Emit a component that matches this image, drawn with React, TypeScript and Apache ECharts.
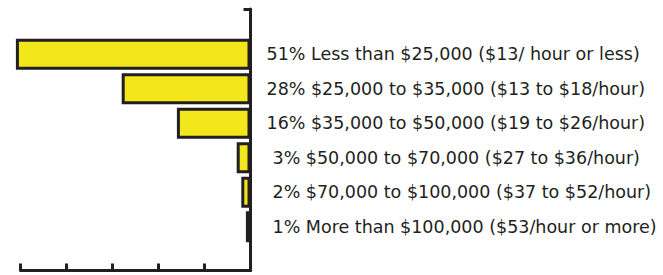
import React, { useEffect, useRef } from "react";
import * as echarts from "echarts";

const categories: string[] = [
  "Less than $25,000 ($13/ hour or less)",
  "$25,000 to $35,000 ($13 to $18/hour)",
  "$35,000 to $50,000 ($19 to $26/hour)",
  "$50,000 to $70,000 ($27 to $36/hour)",
  "$70,000 to $100,000 ($37 to $52/hour)",
  "More than $100,000 ($53/hour or more)",
];
const percents: number[] = [51, 28, 16, 3, 2, 1];
const axisTicks: number[] = [0, 10, 20, 30, 40, 50];

const INK = "#231f20";
const YELLOW = "#f2e71b";
const FONT = "DejaVu Sans";
const FS = 17.5;

export default function App() {
  const ref = useRef<HTMLDivElement>(null);
  useEffect(() => {
    if (!ref.current) return;
    const chart = echarts.init(ref.current, undefined, { renderer: "svg" });
    const pctByCat: Record<string, number> = {};
    categories.forEach((c, i) => (pctByCat[c] = percents[i]));
    chart.setOption({
      animation: false,
      grid: [
        { left: 20.5, right: 412.5, top: 9, bottom: 4.5 },
        { left: 20.5, right: 412.5, top: 37, bottom: 31 },
      ],
      xAxis: [
        {
          gridIndex: 0,
          type: "value",
          inverse: true,
          min: axisTicks[0],
          max: axisTicks[axisTicks.length - 1],
          interval: 10,
          axisLine: { show: true, lineStyle: { color: INK, width: 3 } },
          axisTick: { show: true, inside: true, length: 7, lineStyle: { color: INK, width: 3 } },
          axisLabel: { show: false },
          splitLine: { show: false },
        },
        {
          gridIndex: 1,
          type: "value",
          inverse: true,
          min: axisTicks[0],
          max: axisTicks[axisTicks.length - 1],
          show: false,
          splitLine: { show: false },
        },
      ],
      yAxis: [
        {
          gridIndex: 0,
          type: "value",
          position: "right",
          min: 0,
          max: 1,
          interval: 1,
          axisLine: { show: true, lineStyle: { color: INK, width: 3 } },
          axisTick: { show: true, inside: true, length: 7, lineStyle: { color: INK, width: 3 } },
          axisLabel: { show: false },
          splitLine: { show: false },
        },
        {
          gridIndex: 1,
          type: "category",
          position: "right",
          inverse: true,
          data: categories,
          axisLine: { show: false },
          axisTick: { show: false },
          axisLabel: {
            show: true,
            margin: 16,
            align: "left",
            formatter: (v: string) => {
              const p = pctByCat[v];
              return p >= 10 ? `{a|${p}% ${v}}` : `{b|${p}% ${v}}`;
            },
            rich: {
              a: { color: INK, fontFamily: FONT, fontSize: FS },
              b: { color: INK, fontFamily: FONT, fontSize: FS, padding: [0, 0, 0, 6] },
            },
          },
          splitLine: { show: false },
        },
      ],
      series: [
        {
          type: "bar",
          xAxisIndex: 1,
          yAxisIndex: 1,
          data: percents,
          barWidth: 31,
          clip: false,
          itemStyle: { color: YELLOW, borderColor: INK, borderWidth: 3 },
          z: 1,
        },
      ],
    });
    return () => chart.dispose();
  }, []);
  return (
    <div
      ref={ref}
      style={{ position: "fixed", left: 0, top: 0, width: 663, height: 275, background: "#fff" }}
    />
  );
}
